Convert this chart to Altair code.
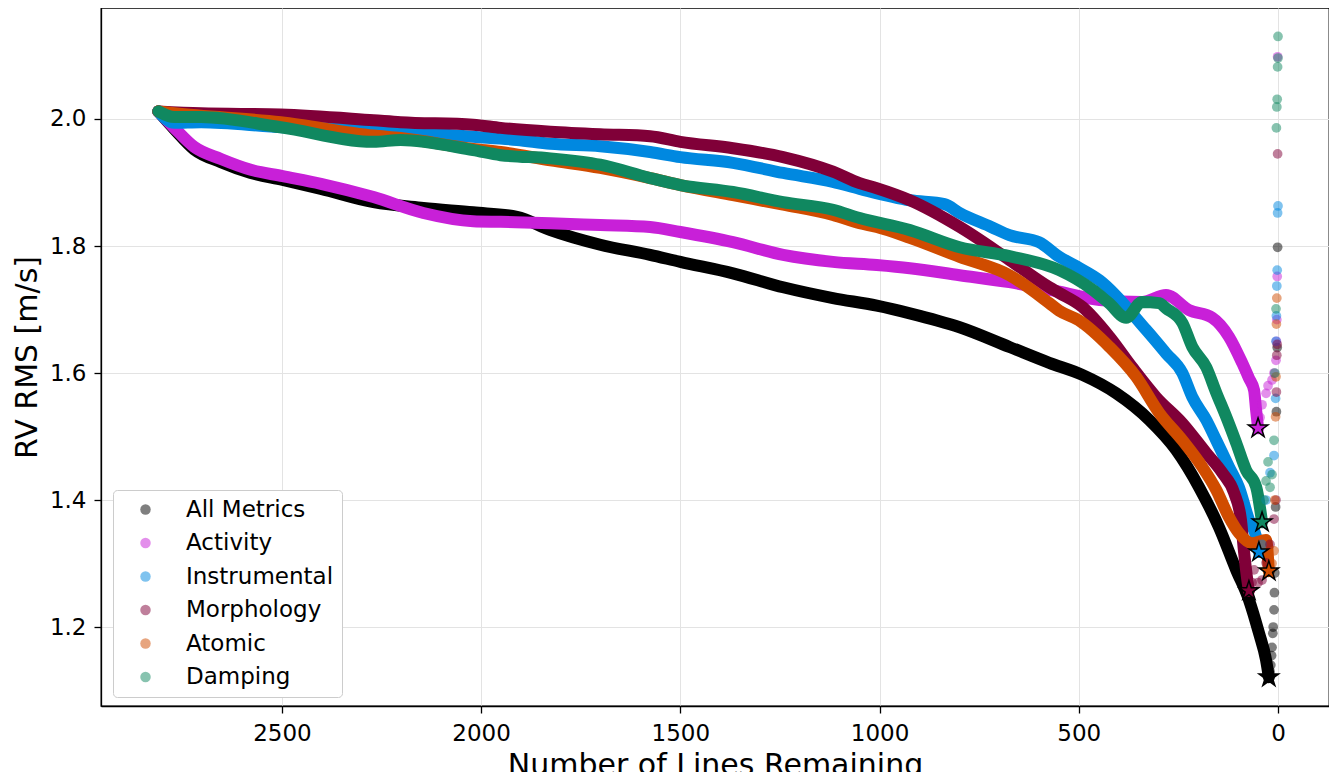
import altair as alt
import pandas as pd

NAMES = ["All Metrics", "Activity", "Instrumental", "Morphology", "Atomic", "Damping"]
COLORS = ["#000000", "#c820d8", "#0088e0", "#800038", "#d04c00", "#108860"]

# ---- main curves (Number of lines remaining, RV RMS) ----
ALL_X = [2810, 2770, 2720, 2653, 2578, 2498, 2402, 2270, 2145, 2020, 1910, 1826, 1701, 1576, 1500,
         1368, 1242, 1117, 1007, 924, 799, 674, 574, 491, 406, 323, 256, 198, 148, 105, 73, 48, 30, 23]
ALL_Y = [2.012, 1.984, 1.952, 1.932, 1.915, 1.904, 1.890, 1.869, 1.860, 1.853, 1.846, 1.825, 1.802, 1.786, 1.775,
         1.757, 1.735, 1.718, 1.706, 1.694, 1.672, 1.641, 1.616, 1.597, 1.568, 1.526, 1.479, 1.420, 1.357, 1.290,
         1.243, 1.191, 1.148, 1.121]

ACT_X = [2810, 2770, 2720, 2653, 2578, 2498, 2402, 2270, 2145, 2020, 1951, 1826, 1701, 1576, 1500, 1368,
         1242, 1117, 1007, 924, 799, 674, 549, 448, 341, 281, 223, 165, 123, 90, 73, 60, 55, 50]
ACT_Y = [2.012, 1.986, 1.956, 1.937, 1.920, 1.910, 1.898, 1.877, 1.852, 1.839, 1.838, 1.836, 1.833, 1.830, 1.822,
         1.806, 1.786, 1.775, 1.770, 1.765, 1.754, 1.743, 1.728, 1.715, 1.712, 1.723, 1.699, 1.687, 1.657, 1.616,
         1.592, 1.573, 1.542, 1.513]

INS_X = [2810, 2770, 2703, 2498, 2270, 2202, 2020, 1910, 1826, 1701, 1576, 1500, 1368, 1242, 1117, 1050,
         924, 837, 799, 720, 674, 600, 549, 506, 448, 331, 281, 240, 215, 180, 155, 123, 98, 73, 55, 48]
INS_Y = [2.012, 1.994, 1.995, 1.987, 1.983, 1.980, 1.972, 1.967, 1.961, 1.957, 1.948, 1.940, 1.931, 1.915,
         1.901, 1.890, 1.872, 1.866, 1.852, 1.830, 1.817, 1.806, 1.783, 1.768, 1.746, 1.668, 1.631, 1.600,
         1.562, 1.526, 1.494, 1.452, 1.420, 1.369, 1.342, 1.318]

MOR_X = [2810, 2703, 2503, 2270, 2202, 2020, 1951, 1826, 1701, 1576, 1500, 1368, 1242, 1117, 1050, 1007,
         924, 799, 674, 574, 549, 491, 423, 366, 306, 240, 180, 140, 110, 93, 85, 77, 73]
MOR_Y = [2.012, 2.009, 2.007, 1.998, 1.995, 1.991, 1.986, 1.980, 1.976, 1.973, 1.964, 1.954, 1.940, 1.917,
         1.899, 1.891, 1.872, 1.830, 1.778, 1.735, 1.726, 1.704, 1.657, 1.609, 1.562, 1.521, 1.474, 1.443,
         1.411, 1.369, 1.317, 1.274, 1.257]

ATO_X = [2810, 2770, 2503, 2270, 2202, 2020, 1951, 1826, 1701, 1576, 1500, 1368, 1242, 1117, 1050, 1007,
         924, 799, 674, 574, 549, 500, 423, 356, 298, 240, 190, 155, 123, 98, 65, 30, 23]
ATO_Y = [2.012, 2.009, 1.995, 1.974, 1.970, 1.953, 1.948, 1.935, 1.923, 1.907, 1.896, 1.880, 1.865, 1.849,
         1.836, 1.830, 1.813, 1.783, 1.754, 1.710, 1.698, 1.683, 1.641, 1.594, 1.537, 1.494, 1.452, 1.416,
         1.373, 1.348, 1.332, 1.337, 1.288]

DAM_X = [2810, 2770, 2703, 2503, 2270, 2202, 2020, 1951, 1826, 1701, 1576, 1500, 1368, 1242, 1117, 1050,
         924, 799, 674, 549, 465, 424, 381, 341, 298, 281, 240, 215, 180, 155, 130, 105, 80, 55, 40]
DAM_Y = [2.012, 2.003, 2.003, 1.987, 1.964, 1.967, 1.951, 1.943, 1.938, 1.928, 1.907, 1.896, 1.885, 1.869,
         1.857, 1.844, 1.825, 1.798, 1.784, 1.762, 1.731, 1.710, 1.687, 1.712, 1.710, 1.702, 1.679, 1.641,
         1.609, 1.569, 1.531, 1.490, 1.447, 1.421, 1.365]

# ---- sparse final points (few lines left) ----
ALL_TX = [20, 18, 16, 15, 13, 12, 10, 9, 8, 6, 4, 2, 1]
ALL_TY = [1.130, 1.140, 1.155, 1.168, 1.190, 1.200, 1.227, 1.254, 1.285, 1.389, 1.539, 1.640, 1.798]
ACT_TX = [45, 40, 30, 25, 15, 10, 5, 4, 3, 2, 1]
ACT_TY = [1.530, 1.550, 1.568, 1.580, 1.589, 1.600, 1.620, 1.650, 1.684, 1.752, 2.098]
INS_TX = [40, 30, 20, 10, 6, 5, 4, 3, 2, 1, 0]
INS_TY = [1.330, 1.400, 1.443, 1.470, 1.560, 1.650, 1.690, 1.737, 1.762, 1.852, 1.863]
MOR_TX = [65, 60, 50, 40, 30, 20, 10, 5, 4, 3, 2, 1]
MOR_TY = [1.270, 1.290, 1.270, 1.274, 1.301, 1.330, 1.370, 1.400, 1.570, 1.628, 1.645, 1.945]
ATO_TX = [15, 10, 8, 6, 5, 4, 3]
ATO_TY = [1.300, 1.320, 1.400, 1.531, 1.594, 1.677, 1.718]
DAM_TX = [35, 30, 25, 20, 15, 10, 8, 5, 4, 3, 2, 1, 0, 0]
DAM_TY = [1.400, 1.430, 1.460, 1.420, 1.440, 1.494, 1.600, 1.701, 1.986, 2.019, 2.031, 2.082, 2.096, 2.130]

# ---- minima (stars) ----
STAR_X = [23, 50, 48, 73, 23, 40]
STAR_Y = [1.121, 1.513, 1.318, 1.257, 1.288, 1.365]

MAIN = [(ALL_X, ALL_Y), (ACT_X, ACT_Y), (INS_X, INS_Y), (MOR_X, MOR_Y), (ATO_X, ATO_Y), (DAM_X, DAM_Y)]
TAIL = [(ALL_TX, ALL_TY), (ACT_TX, ACT_TY), (INS_TX, INS_TY), (MOR_TX, MOR_TY), (ATO_TX, ATO_TY), (DAM_TX, DAM_TY)]

STAR_PATH = ("M0,-1L0.225,-0.309L0.951,-0.309L0.363,0.118L0.588,0.809L0,0.382"
             "L-0.588,0.809L-0.363,0.118L-0.951,-0.309L-0.225,-0.309Z")

xscale = alt.Scale(domain=[-128, 2954], reverse=True, nice=False, zero=False)
yscale = alt.Scale(domain=[1.0756, 2.1748], nice=False, zero=False)

xax = alt.Axis(title="Number of Lines Remaining", orient="bottom", values=[0, 500, 1000, 1500, 2000, 2500],
               format="d", labelPadding=9, titlePadding=5, grid=True)
yax = alt.Axis(title="RV RMS [m/s]", orient="left", values=[1.2, 1.4, 1.6, 1.8, 2.0], format=".1f",
               labelPadding=8, titlePadding=7, grid=True)

X = alt.X("x:Q", scale=xscale, axis=xax)
Y = alt.Y("y:Q", scale=yscale, axis=yax)

layers = []
for name, col, (xs, ys) in zip(NAMES, COLORS, MAIN):
    df = pd.DataFrame({"x": xs, "y": ys, "i": range(len(xs))})
    layers.append(
        alt.Chart(df).mark_line(color=col, strokeWidth=12, strokeCap="round", strokeJoin="round",
                                interpolate="monotone").encode(x=X, y=Y, order="i:Q")
    )

rows = []
for name, (xs, ys) in zip(NAMES, TAIL):
    for a, b in zip(xs, ys):
        rows.append({"series": name, "x": a, "y": b})
tail_df = pd.DataFrame(rows)

legend = alt.Legend(title=None, orient="none", legendX=12, legendY=482, symbolType="circle",
                    symbolSize=110, labelFontSize=23, labelFont="DejaVu Sans", labelColor="black",
                    padding=8, rowPadding=9.5, symbolOffset=13, labelOffset=29,
                    strokeColor="#cccccc", cornerRadius=4, fillColor="white")

layers.append(
    alt.Chart(tail_df).mark_circle(size=95, opacity=0.5).encode(
        x=X, y=Y,
        color=alt.Color("series:N", scale=alt.Scale(domain=NAMES, range=COLORS), legend=legend),
    )
)

star_df = pd.DataFrame({"series": NAMES, "x": STAR_X, "y": STAR_Y})
layers.append(
    alt.Chart(star_df).mark_point(shape=STAR_PATH, filled=True, size=420, stroke="black",
                                  strokeWidth=1.5, opacity=1).encode(
        x=X, y=Y,
        fill=alt.Fill("series:N", scale=alt.Scale(domain=NAMES, range=COLORS), legend=None),
    )
)

chart = alt.layer(*layers).properties(
    width=1228, height=698,
    padding={"left": 93, "top": 0, "right": 0, "bottom": 66},
    autosize=alt.AutoSizeParams(type="none"),
).configure_view(
    stroke="black", strokeWidth=1.3
).configure_axis(
    labelFont="DejaVu Sans", labelFontSize=23, labelColor="black",
    titleFont="DejaVu Sans", titleFontSize=30, titleFontWeight="normal", titleColor="black",
    tickColor="black", tickSize=7, tickWidth=1.3, domainColor="black", domainWidth=1.3,
    gridColor="#e3e3e3", gridWidth=1,
)

chart.save("out.html", embed_options={"renderer": "svg", "actions": False})
